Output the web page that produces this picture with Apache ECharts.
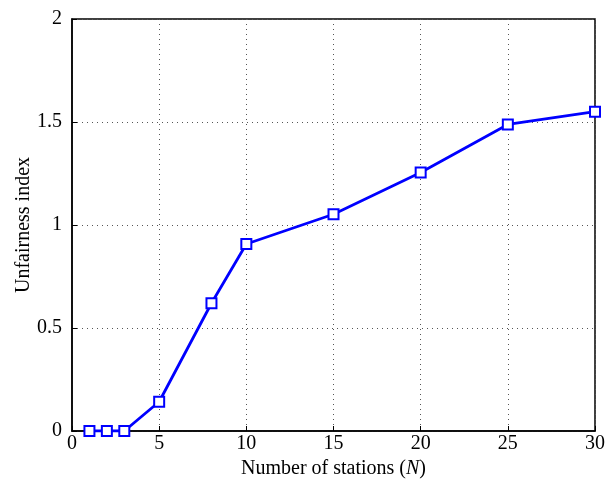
<!DOCTYPE html>
<html>
<head>
<meta charset="utf-8">
<script src="https://cdn.jsdelivr.net/npm/echarts@6/dist/echarts.min.js"></script>
<style>
  html, body { margin: 0; padding: 0; background: #fff; }
  #chart { width: 608px; height: 479px; }
</style>
</head>
<body>
<div id="chart"></div>
<script>
// Datos
const stations = [1, 2, 3, 5, 8, 10, 15, 20, 25, 30];
const unfairness = [0, 0, 0, 0.142, 0.62, 0.908, 1.052, 1.255, 1.488, 1.55];
const xTicks = [0, 5, 10, 15, 20, 25, 30];
const yTicks = [0, 0.5, 1, 1.5, 2];

const font = '"Liberation Serif", "Times New Roman", serif';
const chart = echarts.init(document.getElementById('chart'));

const gridLine = { show: true, lineStyle: { type: [1, 4], color: '#555', width: 1 } };
const tick = { show: true, inside: true, length: 5, lineStyle: { color: '#000' } };

const option = {
  animation: false,
  grid: {
    left: 72, top: 19, right: 13, bottom: 48, outerBoundsMode: 'none',
    show: true, borderColor: '#000', borderWidth: 1.5
  },
  xAxis: {
    type: 'value', min: xTicks[0], max: xTicks[xTicks.length - 1], interval: 5,
    name: '{a|Number of stations (}{i|N}{a|)}',
    nameLocation: 'middle', nameGap: 28, nameMoveOverlap: false,
    nameTextStyle: { rich: { a: { fontFamily: font, fontSize: 20, color: '#000' }, i: { fontFamily: font, fontSize: 20, fontStyle: 'italic', color: '#000' } } },
    axisLine: { show: true, onZero: false, lineStyle: { color: '#000', width: 1.5 } },
    axisTick: tick,
    axisLabel: { fontFamily: font, fontSize: 20, color: '#000', margin: 3 },
    splitLine: gridLine
  },
  yAxis: {
    type: 'value', min: yTicks[0], max: yTicks[yTicks.length - 1], interval: 0.5,
    name: 'Unfairness index', nameLocation: 'middle', nameGap: 38, nameMoveOverlap: false,
    nameTextStyle: { fontFamily: font, fontSize: 20, color: '#000' },
    axisLine: { show: true, lineStyle: { color: '#000', width: 1.5 } },
    axisTick: tick,
    axisLabel: { fontFamily: font, fontSize: 20, color: '#000', margin: 10 },
    splitLine: gridLine
  },
  series: [{
    type: 'line',
    data: stations.map((x, i) => [x, unfairness[i]]),
    symbol: 'rect', symbolSize: 10,
    lineStyle: { color: '#0000ff', width: 2.8 },
    itemStyle: { color: '#fff', borderColor: '#0000ff', borderWidth: 2 },
    z: 5
  }]
};

chart.setOption(option);
</script>
</body>
</html>
